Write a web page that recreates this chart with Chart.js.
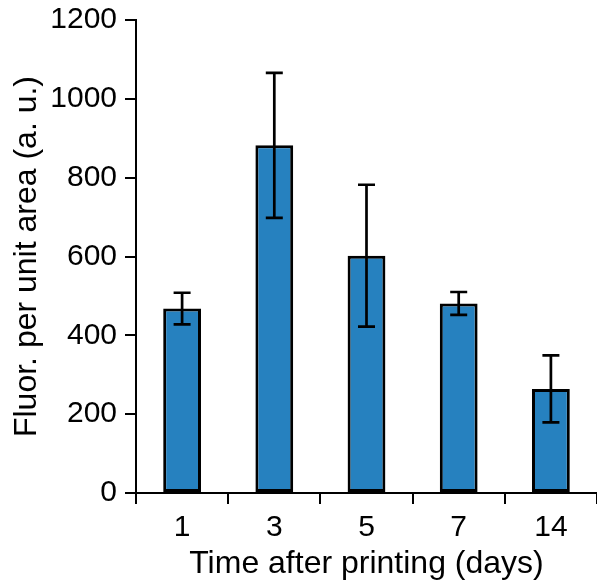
<!DOCTYPE html>
<html>
<head>
<meta charset="utf-8">
<script src="https://cdn.jsdelivr.net/npm/chart.js@4/dist/chart.umd.min.js"></script>
<style>
    html, body { margin: 0; padding: 0; background: #fff; }
    #wrap { width: 597px; height: 583px; }
</style>
</head>
<body>
<div id="wrap"><canvas id="chart" width="597" height="583"></canvas></div>
<script>
(function () {
    'use strict';

    var days = ['1', '3', '5', '7', '14'],
        fluor = [468, 882, 602, 481, 264],
        fluorErr = [40, 184, 180, 29, 85],
        yTicks = [0, 200, 400, 600, 800, 1000, 1200];

    var fontFamily = '"Liberation Sans", Arial, sans-serif';

    // vertical error bars with flat caps, drawn over the bars
    var errorBars = {
        id: 'errorBars',
        afterDatasetsDraw: function (chart) {
            var ctx = chart.ctx,
                yScale = chart.scales.y,
                meta = chart.getDatasetMeta(0);

            ctx.save();
            ctx.strokeStyle = '#000';
            ctx.lineWidth = 2.7;
            ctx.lineCap = 'butt';

            meta.data.forEach(function (bar, i) {
                var x = bar.x,
                    hi = yScale.getPixelForValue(fluor[i] + fluorErr[i]),
                    lo = yScale.getPixelForValue(fluor[i] - fluorErr[i]),
                    cap = 8.5;

                ctx.beginPath();
                ctx.moveTo(x, hi);
                ctx.lineTo(x, lo);
                ctx.moveTo(x - cap, hi);
                ctx.lineTo(x + cap, hi);
                ctx.moveTo(x - cap, lo);
                ctx.lineTo(x + cap, lo);
                ctx.stroke();
            });

            ctx.restore();
        }
    };

    new Chart(document.getElementById('chart').getContext('2d'), {
        type: 'bar',
        data: {
            labels: days,
            datasets: [{
                data: fluor,
                backgroundColor: '#2681bf',
                borderColor: '#000',
                borderWidth: 3,
                borderSkipped: false,
                barPercentage: 0.41,
                categoryPercentage: 1
            }]
        },
        options: {
            responsive: false,
            animation: false,
            layout: { padding: { top: 20, right: -4, left: 0, bottom: 0 } },
            plugins: {
                legend: { display: false },
                tooltip: { enabled: false }
            },
            scales: {
                x: {
                    offset: true,
                    grid: {
                        offset: true,
                        drawOnChartArea: false,
                        drawTicks: true,
                        tickLength: 11,
                        color: '#000',
                        lineWidth: 2
                    },
                    border: { display: true, color: '#000', width: 2 },
                    ticks: {
                        color: '#000',
                        padding: 6,
                        font: { family: fontFamily, size: 30 }
                    },
                    title: {
                        display: true,
                        text: 'Time after printing (days)',
                        color: '#000',
                        padding: { top: 0, bottom: 0 },
                        font: { family: fontFamily, size: 32 }
                    },
                    afterFit: function (scale) {
                        scale.height = 90;
                        scale.paddingLeft = 0;
                        scale.paddingRight = 0;
                    }
                },
                y: {
                    min: 0,
                    max: 1200,
                    afterBuildTicks: function (scale) {
                        scale.ticks = yTicks.map(function (v) { return { value: v }; });
                    },
                    grid: {
                        drawOnChartArea: false,
                        drawTicks: true,
                        tickLength: 11,
                        color: '#000',
                        lineWidth: 2
                    },
                    border: { display: true, color: '#000', width: 2 },
                    ticks: {
                        color: '#000',
                        padding: 8,
                        font: { family: fontFamily, size: 30 },
                        callback: function (value) { return String(value); }
                    },
                    title: {
                        display: true,
                        text: 'Fluor. per unit area (a. u.)',
                        color: '#000',
                        padding: { top: 8, bottom: 0 },
                        font: { family: fontFamily, size: 32 }
                    },
                    afterFit: function (scale) {
                        scale.width = 136;
                        scale.paddingTop = 0;
                        scale.paddingBottom = 0;
                    }
                }
            }
        },
        plugins: [errorBars]
    });
}());
</script>
</body>
</html>
